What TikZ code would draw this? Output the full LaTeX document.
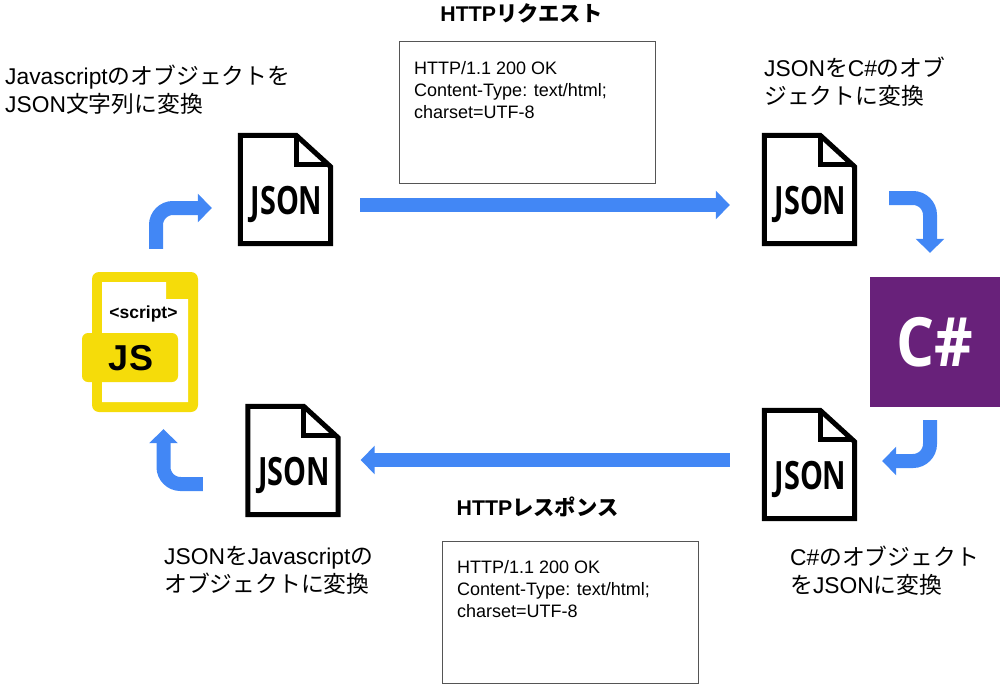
\documentclass[tikz,border=0pt]{standalone}
\usepackage{fontspec}
\setmainfont{Liberation Sans}
\newfontfamily\cjk{Noto Sans CJK JP}
\newfontfamily\iconfont{Open Sans}
\usetikzlibrary{arrows.meta, positioning, calc}
\definecolor{flowBlue}{HTML}{4287F5}
\definecolor{jsYellow}{HTML}{F5DC0A}
\definecolor{csPurple}{HTML}{68217A}
\definecolor{boxGray}{HTML}{555555}
\newcommand{\jp}[1]{{\cjk #1}}
\tikzset{
    flowline/.style={line width=14pt, draw=flowBlue, -{Triangle[length=14pt, width=28pt]}},
    bentline/.style={flowline, rounded corners=17pt},
    capbox/.style={draw=boxGray, line width=1pt, minimum width=255.5pt, minimum height=142pt, anchor=north west},
    boxtext/.style={font=\fontsize{18}{22}\selectfont, align=left, anchor=north west, inner sep=0pt},
    caption/.style={font=\fontsize{22.8}{28}\selectfont, align=left, anchor=north west, inner sep=0pt},
    heading/.style={font=\fontsize{21.3}{24}\selectfont\bfseries}
}
\newcommand{\DrawJsonFile}[3]{
    \node[minimum width=95pt, minimum height=113pt, inner sep=0pt] (#3) at (#1, #2) {};
    \node[font=\iconfont\fontsize{39}{39}\selectfont\bfseries] (#3text) at ($(#3.center)+(1,15)$) {\scalebox{0.74}[1]{JSON}};
    \draw[line width=5pt, miter limit=10] ($(#3.north east)+(-2.5,34)$) -- ($(#3.north east)+(-37,2.5)$) -- ($(#3.north west)+(2.5,2.5)$) -- ($(#3.south west)+(2.5,-2.5)$) -- ($(#3.south east)+(-2.5,-2.5)$) -- cycle;
    \draw[line width=5pt] ($(#3.north east)+(-37,2.5)$) -- ($(#3.north east)+(-37,32)$) -- ($(#3.north east)+(-4,32)$);
}
\begin{document}
\begin{tikzpicture}[x=1pt, y=-1pt]
    \useasboundingbox (0, 0) rectangle (1002, 688);

    % Javascript icon
    \node[minimum width=106pt, minimum height=140pt, inner sep=0pt] (jsIcon) at (145, 342) {};
    \fill[jsYellow, rounded corners=7pt] (92, 272) rectangle (198, 412);
    \fill[white] (102, 282) -- (166, 282) -- (166, 299) -- (188, 299) -- (188, 402) -- (102, 402) -- cycle;
    \fill[jsYellow, rounded corners=6pt] (82, 333) rectangle (178, 382);
    \node[font=\fontsize{17.5}{18}\selectfont\bfseries] (scriptTag) at (143.5, 314) {<script>};
    \node[font=\fontsize{36}{36}\selectfont\bfseries] (jsTag) at (131, 358) {JS};

    % C# icon
    \node[fill=csPurple, minimum size=130pt, inner sep=0pt, text=white, font=\iconfont\fontsize{68}{68}\selectfont\bfseries] (csIcon) at (935, 342) {\scalebox{0.88}[1]{C\#}};

    % Json files
    \DrawJsonFile{285.5}{189.5}{jsonReq}
    \DrawJsonFile{809.5}{189.5}{jsonIn}
    \DrawJsonFile{809.5}{464.5}{jsonOut}
    \DrawJsonFile{293}{460.5}{jsonRes}

    % Flow
    \draw[bentline] ([xshift=11pt, yshift=23pt]jsIcon.north) |- ([xshift=-26pt, yshift=-18.5pt]jsonReq.west);
    \draw[flowline] ([xshift=27pt, yshift=-15.5pt]jsonReq.east) -- ([xshift=-32pt, yshift=-15.5pt]jsonIn.west);
    \draw[bentline] ([xshift=32pt, yshift=-8.5pt]jsonIn.east) -| ([xshift=-5pt, yshift=24pt]csIcon.north);
    \draw[bentline] ([xshift=-5pt, yshift=-13pt]csIcon.south) |- ([xshift=25pt, yshift=3.5pt]jsonOut.east);
    \draw[flowline] ([xshift=-32pt, yshift=4.5pt]jsonOut.west) -- ([xshift=20pt, yshift=0.5pt]jsonRes.east);
    \draw[bentline] ([xshift=-42.5pt, yshift=-23.5pt]jsonRes.west) -| ([xshift=18.5pt, yshift=-17pt]jsIcon.south);

    % Captions
    \node[caption] (capJs) at (5, 65) {Javascript\jp{のオブジェクトを}\\JSON\jp{文字列に変換}};
    \node[caption] (capCs) at (764, 57) {JSON\jp{を}C\#\jp{のオブ}\\\jp{ジェクトに変換}};
    \node[caption] (capBack) at (790, 546) {C\#\jp{のオブジェクト}\\\jp{を}JSON\jp{に変換}};
    \node[caption] (capFront) at (164, 546) {JSON\jp{を}Javascript\jp{の}\\\jp{オブジェクトに変換}};

    % HTTP boxes
    \node[heading] (reqTitle) at (521.5, 13) {HTTP\jp{リクエスト}};
    \node[capbox] (reqBox) at (399, 41) {};
    \node[boxtext] (reqText) at (414, 61.5) {HTTP/1.1 200 OK\\Content-Type: text/html;\\charset=UTF-8};
    \node[heading] (resTitle) at (537.5, 507) {HTTP\jp{レスポンス}};
    \node[capbox] (resBox) at (442, 541) {};
    \node[boxtext] (resText) at (457, 560.5) {HTTP/1.1 200 OK\\Content-Type: text/html;\\charset=UTF-8};
\end{tikzpicture}
\end{document}
